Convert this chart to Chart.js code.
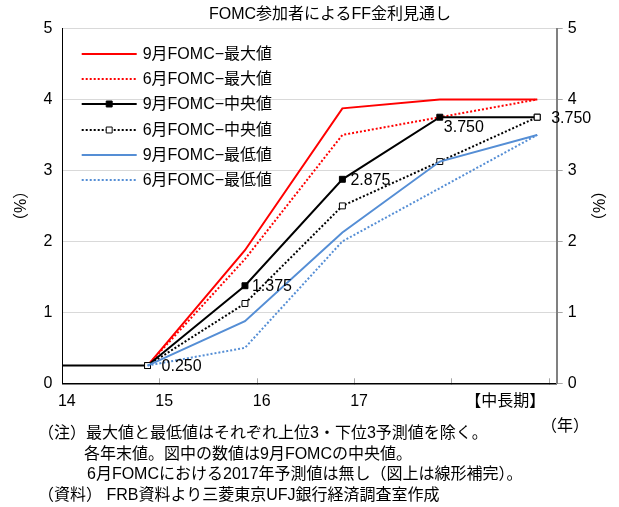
<!DOCTYPE html>
<html lang="ja">
<head>
<meta charset="utf-8">
<title>FOMC参加者によるFF金利見通し</title>
<script src="https://cdn.jsdelivr.net/npm/chart.js@4/dist/chart.umd.min.js"></script>
<style>
  html, body { margin:0; padding:0; background:#fff; }
  #wrap { position:relative; width:619px; height:507px; overflow:hidden; background:#fff; }
  #c { position:absolute; left:0; top:0; }
  .txt { position:absolute; font-family:"Liberation Sans","Noto Sans CJK JP",sans-serif; font-size:16px; line-height:20px; color:#000; white-space:nowrap; }
</style>
</head>
<body>
<div id="wrap">
  <canvas id="c" width="619" height="507"></canvas>
  <div class="txt" style="left:0;width:660px;top:4px;text-align:center;">FOMC参加者によるFF金利見通し</div>
  <div class="txt" style="left:38px;top:423px;">（注）最大値と最低値はそれぞれ上位3・下位3予測値を除く。</div>
  <div class="txt" style="left:541px;top:416px;">（年）</div>
  <div class="txt" style="left:84px;top:444px;">各年末値。図中の数値は9月FOMCの中央値。</div>
  <div class="txt" style="left:87px;top:464px;">6月FOMCにおける2017年予測値は無し（図上は線形補完）。</div>
  <div class="txt" style="left:38px;top:485px;">（資料） FRB資料より三菱東京UFJ銀行経済調査室作成</div>
</div>
<script>
// ---- data ----
const yearPos = [0.875, 1.875, 2.875, 3.875, 4.875];   // year-end positions on the x scale (14,15,16,17,中長期)
const tickMarks = [0, 1, 2, 3, 4, 5];
const labelPos = [0, 1, 2, 3, 4.5];
const xTickLabels = ['14', '15', '16', '17', '【中長期】'];
const yTicks = [0, 1, 2, 3, 4, 5];
const actualPos = [0, 0.875];
const actualRate = [0.25, 0.25];
const sepMax = [0.25, 1.875, 3.875, 4.0, 4.0];
const junMax = [0.25, 1.75, 3.5, 3.75, 4.0];
const sepMedian = [0.25, 1.375, 2.875, 3.75, 3.75];
const junMedian = [0.25, 1.125, 2.5, 3.125, 3.75];
const sepMin = [0.25, 0.875, 2.125, 3.125, 3.5];
const junMin = [0.25, 0.5, 2.0, 2.75, 3.5];
const seriesNames = ['9月FOMC−最大値', '6月FOMC−最大値', '9月FOMC−中央値', '6月FOMC−中央値', '9月FOMC−最低値', '6月FOMC−最低値'];

const FONT = '"Liberation Sans","Noto Sans CJK JP",sans-serif';
const RED = '#ff0000', BLACK = '#000000', BLUE = '#558ed5';
const DOT = [2, 2];
const pts = (xs, ys) => ys.map((y, i) => ({ x: xs[i], y }));

function line(label, xs, ys, color, dash, opts) {
  return Object.assign({
    label, data: pts(xs, ys), borderColor: color, backgroundColor: color,
    borderWidth: 2, borderDash: dash || [], tension: 0, fill: false,
    pointRadius: 0, pointHoverRadius: 0, inLegend: true, yAxisID: 'y'
  }, opts || {});
}

const datasets = [
  line('実績', actualPos, actualRate, BLACK, null, { inLegend: false }),
  line(seriesNames[0], yearPos, sepMax, RED, null),
  line(seriesNames[1], yearPos, junMax, RED, DOT),
  line(seriesNames[2], yearPos, sepMedian, BLACK, null, { pointStyle: 'rect', pointRadius: 4.2, pointBackgroundColor: BLACK, pointBorderColor: BLACK, pointBorderWidth: 1 }),
  line(seriesNames[3], yearPos, junMedian, BLACK, DOT, { pointStyle: 'rect', pointRadius: 4.2, pointBackgroundColor: '#ffffff', pointBorderColor: BLACK, pointBorderWidth: 1 }),
  line(seriesNames[4], yearPos, sepMin, BLUE, null),
  line(seriesNames[5], yearPos, junMin, BLUE, DOT)
];
datasets.forEach((d, i) => { d.order = -i; });

const insideLegend = {
  id: 'insideLegend',
  afterDraw(chart, args, o) {
    const { ctx, chartArea: a } = chart;
    let row = 0;
    chart.data.datasets.forEach(ds => {
      if (!ds.inLegend) return;
      const y = Math.round(a.top + o.firstRow + row * o.rowGap);
      const x0 = a.left + o.lineStart, x1 = x0 + o.lineLength;
      ctx.save();
      ctx.strokeStyle = ds.borderColor; ctx.lineWidth = ds.borderWidth;
      ctx.setLineDash(ds.borderDash || []);
      ctx.beginPath(); ctx.moveTo(x0, y); ctx.lineTo(x1, y); ctx.stroke();
      ctx.setLineDash([]);
      if (ds.pointRadius > 0) {
        const s = ds.pointRadius * Math.SQRT1_2, cx = (x0 + x1) / 2;
        ctx.fillStyle = ds.pointBackgroundColor; ctx.strokeStyle = ds.pointBorderColor; ctx.lineWidth = ds.pointBorderWidth;
        ctx.beginPath(); ctx.rect(cx - s, y - s, 2 * s, 2 * s); ctx.fill(); ctx.stroke();
      }
      ctx.fillStyle = '#000'; ctx.font = o.font; ctx.textBaseline = 'middle'; ctx.textAlign = 'left';
      ctx.fillText(ds.label, x1 + o.textGap, y + 1);
      ctx.restore();
      row++;
    });
  }
};

const medianLabels = {
  id: 'medianLabels',
  afterDatasetsDraw(chart, args, o) {
    const idx = chart.data.datasets.findIndex(d => d.label === seriesNames[2]);
    const meta = chart.getDatasetMeta(idx);
    const { ctx } = chart;
    ctx.save();
    ctx.fillStyle = '#000'; ctx.font = o.font; ctx.textBaseline = 'middle'; ctx.textAlign = 'left';
    meta.data.forEach((p, i) => {
      ctx.fillText(sepMedian[i].toFixed(3), p.x + o.dx[i], p.y + o.dy[i] + 1);
    });
    ctx.restore();
  }
};

Chart.defaults.font.family = FONT;
Chart.defaults.font.size = 16;
Chart.defaults.color = '#000';

new Chart(document.getElementById('c'), {
  type: 'line',
  data: { datasets },
  plugins: [insideLegend, medianLabels],
  options: {
    responsive: false, animation: false,
    layout: { padding: { top: 28.5, bottom: 83.7, left: 0, right: 0 } },
    plugins: {
      legend: { display: false },
      tooltip: { enabled: false },
      insideLegend: { firstRow: 25.5, rowGap: 25.2, lineStart: 19.4, lineLength: 55, textGap: 6, font: '16px ' + FONT },
      medianLabels: { font: '16px ' + FONT, dx: [14, 7, 8, 4, 14], dy: [0, 0, 0, 9.5, 0] }
    },
    scales: {
      x: {
        type: 'linear', min: 0, max: 5.075,
        afterBuildTicks: (s) => { s.ticks = [...new Set([...tickMarks, ...labelPos])].sort((a, b) => a - b).map(v => ({ value: v })); },
        afterFit: (s) => { s.height = 40; },
        grid: {
          drawOnChartArea: false, drawTicks: true, tickLength: -5, tickWidth: 1,
          tickColor: (c) => (c.tick && tickMarks.includes(c.tick.value) && c.tick.value !== 0) ? '#a6a6a6' : 'rgba(0,0,0,0)'
        },
        border: { color: '#000', width: 1.5 },
        ticks: {
          autoSkip: false, maxRotation: 0, minRotation: 0, labelOffset: 4.5, padding: 14,
          callback: (v) => { const i = labelPos.indexOf(v); return i >= 0 ? xTickLabels[i] : ''; }
        }
      },
      y: {
        position: 'left', min: 0, max: 5,
        afterBuildTicks: (s) => { s.ticks = yTicks.map(v => ({ value: v })); },
        afterFit: (s) => { s.width = 62.3; },
        grid: { color: '#d9d9d9', lineWidth: 1, drawTicks: false },
        border: { color: '#000', width: 1 },
        ticks: { padding: 10 },
        title: { display: true, text: '（%）', padding: { top: 12.4, bottom: 0 }, font: { size: 16 } }
      },
      y2: {
        position: 'right', min: 0, max: 5,
        afterBuildTicks: (s) => { s.ticks = yTicks.map(v => ({ value: v })); },
        afterFit: (s) => { s.width = 62.3; },
        grid: { drawOnChartArea: false, drawTicks: true, tickLength: 6, tickColor: '#a6a6a6' },
        border: { color: '#808080', width: 2 },
        ticks: { padding: 5 },
        title: { display: true, text: '（%）', padding: { top: 12, bottom: 0 }, font: { size: 16 } }
      }
    }
  }
});
</script>
</body>
</html>
